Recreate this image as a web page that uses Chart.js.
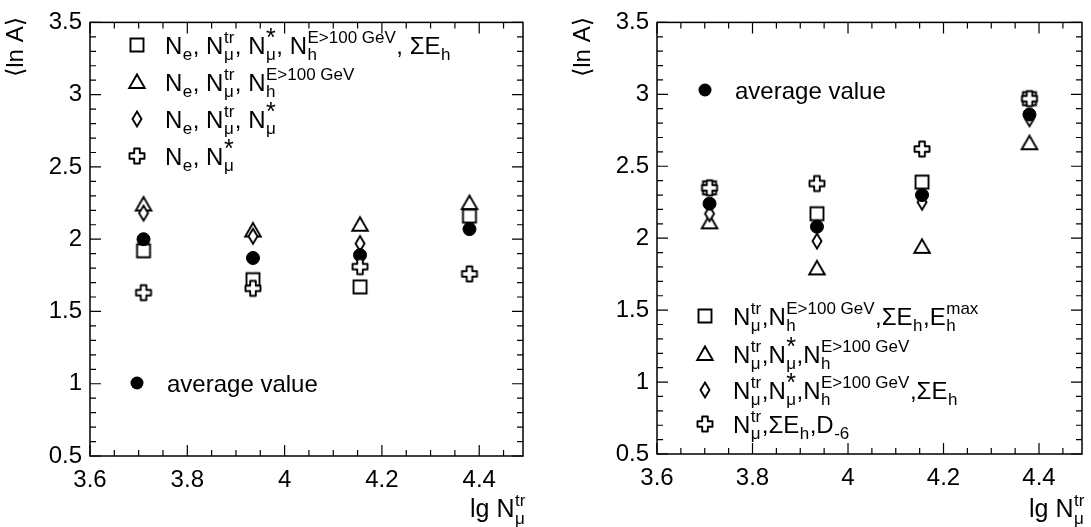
<!DOCTYPE html>
<html><head><meta charset="utf-8">
<script src="https://cdn.jsdelivr.net/npm/chart.js@4/dist/chart.umd.min.js"></script>
<style>
html,body{margin:0;padding:0;background:#fff;}
#wrap{position:relative;width:1091px;height:527px;overflow:hidden;background:#fff;}
.panel{position:absolute;top:0;height:527px;}
</style></head><body>
<div id="wrap">
<div class="panel" style="left:0;width:545px"><canvas id="c1"></canvas></div>
<div class="panel" style="left:545px;width:546px"><canvas id="c2"></canvas></div>
</div>
<script>
// ---------- data ----------
const xCenters = [3.71, 3.935, 4.155, 4.38];
const xTicks = [3.6, 3.8, 4.0, 4.2, 4.4];
const xTickLabels = ['3.6', '3.8', '4', '4.2', '4.4'];
const yTicks = [0.5, 1, 1.5, 2, 2.5, 3, 3.5];
const yTickLabels = ['0.5', '1', '1.5', '2', '2.5', '3', '3.5'];

// left panel
const leftSquare   = [1.92, 1.72, 1.67, 2.16];
const leftTriangle = [2.24, 2.06, 2.10, 2.25];
const leftDiamond  = [2.18, 2.02, 1.97, 2.13];
const leftCross    = [1.63, 1.66, 1.81, 1.76];
const leftAverage  = [2.00, 1.87, 1.89, 2.07];

// right panel
const rightSquare   = [2.35, 2.17, 2.39, 2.97];
const rightTriangle = [2.11, 1.79, 1.94, 2.66];
const rightDiamond  = [2.17, 1.98, 2.25, 2.83];
const rightCross    = [2.35, 2.38, 2.62, 2.97];
const rightAverage  = [2.24, 2.08, 2.30, 2.86];

// legend texts: token = string or [base, sup, sub]
const leftLegend = [
  ['square',   [['N',null,'e'], ', ', ['N','tr','μ'], ', ', ['N','*','μ'], ', ', ['N','E>100 GeV','h'], ', ', ['ΣE',null,'h']]],
  ['triangle', [['N',null,'e'], ', ', ['N','tr','μ'], ', ', ['N','E>100 GeV','h']]],
  ['diamond',  [['N',null,'e'], ', ', ['N','tr','μ'], ', ', ['N','*','μ']]],
  ['cross',    [['N',null,'e'], ', ', ['N','*','μ']]]
];
const rightLegend = [
  ['square',   [['N','tr','μ'], ',', ['N','E>100 GeV','h'], ',', ['ΣE',null,'h'], ',', ['E','max','h']]],
  ['triangle', [['N','tr','μ'], ',', ['N','*','μ'], ',', ['N','E>100 GeV','h']]],
  ['diamond',  [['N','tr','μ'], ',', ['N','*','μ'], ',', ['N','E>100 GeV','h'], ',', ['ΣE',null,'h']]],
  ['cross',    [['N','tr','μ'], ',', ['ΣE',null,'h'], ',', ['D',null,'-6']]]
];
const averageLabel = 'average value';
const yTitle = '⟨ln A⟩';

// ---------- styling ----------
const FF = "'Liberation Sans', Arial, Helvetica, 'DejaVu Sans', sans-serif";

function makeMarker(kind) {
  const S = 22, c = document.createElement('canvas');
  c.width = S; c.height = S;
  const g = c.getContext('2d'), m = S / 2;
  g.lineWidth = 1.9; g.strokeStyle = '#000'; g.fillStyle = '#fff'; g.lineJoin = 'miter';
  g.beginPath();
  if (kind === 'square') {
    g.rect(m - 6.5, m - 6.5, 13, 13);
  } else if (kind === 'triangle') {
    g.moveTo(m, m - 7.5); g.lineTo(m + 7.8, m + 6); g.lineTo(m - 7.8, m + 6); g.closePath();
  } else if (kind === 'diamond') {
    g.moveTo(m, m - 7.5); g.lineTo(m + 4.5, m); g.lineTo(m, m + 7.5); g.lineTo(m - 4.5, m); g.closePath();
  } else if (kind === 'cross') {
    const a = 7.5, b = 2.8;
    const pts = [[-b,-a],[b,-a],[b,-b],[a,-b],[a,b],[b,b],[b,a],[-b,a],[-b,b],[-a,b],[-a,-b],[-b,-b]];
    g.lineJoin = 'round';
    pts.forEach((p, i) => i ? g.lineTo(m + p[0], m + p[1]) : g.moveTo(m + p[0], m + p[1]));
    g.closePath();
  }
  g.fill(); g.stroke();
  return c;
}
const MK = {
  square: makeMarker('square'), triangle: makeMarker('triangle'),
  diamond: makeMarker('diamond'), cross: makeMarker('cross')
};

function pts(vals) { return vals.map((v, i) => ({ x: xCenters[i], y: v })); }
function openSet(vals, kind) {
  return { data: pts(vals), pointStyle: MK[kind], pointRadius: 8, showLine: false };
}
function avgSet(vals) {
  return { data: pts(vals), pointStyle: 'circle', pointRadius: 6.5, backgroundColor: '#000', borderColor: '#000', borderWidth: 1, showLine: false };
}

function drawRich(ctx, x, y, tokens, fs, ss) {
  ctx.textAlign = 'left'; ctx.textBaseline = 'alphabetic'; ctx.fillStyle = '#000';
  for (const t of tokens) {
    if (typeof t === 'string') {
      ctx.font = fs + 'px ' + FF; ctx.fillText(t, x, y); x += ctx.measureText(t).width;
    } else {
      const [b, sup, sub] = t;
      ctx.font = fs + 'px ' + FF; ctx.fillText(b, x, y); x += ctx.measureText(b).width;
      let w = 0;
      if (sup) {
        const star = sup === '*';
        ctx.font = (star ? Math.round(ss * 1.45) : ss) + 'px ' + FF;
        ctx.fillText(sup, x + 0.5, y - fs * (star ? 0.32 : 0.45));
        w = Math.max(w, ctx.measureText(sup).width);
      }
      ctx.font = ss + 'px ' + FF;
      if (sub) { ctx.fillText(sub, x + 0.5, y + fs * 0.27); w = Math.max(w, ctx.measureText(sub).width); }
      x += w + 1;
    }
  }
  return x;
}

const framePlugin = {
  id: 'frame',
  beforeDatasetsDraw(chart) {
    const ctx = chart.ctx, a = chart.chartArea, xs = chart.scales.x, ys = chart.scales.y;
    ctx.save();
    ctx.strokeStyle = '#000'; ctx.lineWidth = 1.5;
    ctx.strokeRect(a.left, a.top, a.right - a.left, a.bottom - a.top);
    ctx.lineWidth = 1.2;
    ctx.beginPath();
    for (let k = 0; k * 0.05 + 3.6 <= xs.max + 1e-9; k++) {
      const v = 3.6 + k * 0.05, px = xs.getPixelForValue(v);
      const L = (k % 4 === 0) ? 11 : 6;
      ctx.moveTo(px, a.bottom); ctx.lineTo(px, a.bottom - L);
      ctx.moveTo(px, a.top); ctx.lineTo(px, a.top + L);
    }
    for (let k = 0; k <= 30; k++) {
      const v = 0.5 + k * 0.1, py = ys.getPixelForValue(v);
      const L = (k % 5 === 0) ? 11 : 6;
      ctx.moveTo(a.left, py); ctx.lineTo(a.left + L, py);
      ctx.moveTo(a.right, py); ctx.lineTo(a.right - L, py);
    }
    ctx.stroke();
    ctx.restore();
  },
  afterDraw(chart, args, opts) {
    const ctx = chart.ctx, a = chart.chartArea;
    ctx.save();
    ctx.fillStyle = '#000';
    // y title
    ctx.translate(opts.yTitleX, 17); ctx.rotate(-Math.PI / 2);
    ctx.font = '24px ' + FF; ctx.textAlign = 'right'; ctx.textBaseline = 'middle';
    ctx.fillText(yTitle, 0, 0);
    ctx.setTransform(1, 0, 0, 1, 0, 0);
    // x title
    drawRich(ctx, a.right - 53, 517, [['lg N', 'tr', 'μ']], 25, 17);
    // legend
    opts.legend.forEach((row, i) => {
      const cy = opts.rows[i];
      ctx.drawImage(MK[row[0]], opts.mx - 11, cy - 11);
      drawRich(ctx, opts.tx, cy + 8.5, row[1], 24, 17);
    });
    ctx.beginPath(); ctx.arc(opts.mx, opts.avgY, 6.5, 0, Math.PI * 2); ctx.fill();
    ctx.font = '24px ' + FF; ctx.textAlign = 'left'; ctx.textBaseline = 'alphabetic';
    ctx.fillText(averageLabel, opts.tx + 2, opts.avgY + 8.5);
    ctx.restore();
  }
};

function makeChart(id, sets, cfg) {
  return new Chart(document.getElementById(id), {
    type: 'scatter',
    data: { datasets: sets },
    options: {
      responsive: true, maintainAspectRatio: false, animation: false, events: [],
      layout: { padding: { left: 0, right: cfg.padRight, top: 15, bottom: 0 } },
      plugins: { legend: { display: false }, tooltip: { enabled: false }, frame: cfg.frame },
      scales: {
        x: {
          type: 'linear', min: 3.6, max: 4.49,
          afterBuildTicks: s => { s.ticks = xTicks.map(v => ({ value: v })); },
          afterFit: s => { s.height = cfg.xHeight; },
          ticks: { callback: (v, i) => xTickLabels[i], font: { family: FF, size: 24 }, color: '#000', padding: 10, maxRotation: 0, autoSkip: false },
          grid: { display: false, drawTicks: false }, border: { display: false }
        },
        y: {
          type: 'linear', min: 0.5, max: 3.5,
          afterBuildTicks: s => { s.ticks = yTicks.map(v => ({ value: v })); },
          afterFit: s => { s.width = cfg.yWidth; },
          ticks: { callback: (v, i) => yTickLabels[i], font: { family: FF, size: 24 }, color: '#000', padding: 8, autoSkip: false },
          grid: { display: false, drawTicks: false }, border: { display: false }
        }
      }
    },
    plugins: [framePlugin]
  });
}

makeChart('c1', [
  openSet(leftCross, 'cross'), avgSet(leftAverage), openSet(leftSquare, 'square'),
  openSet(leftDiamond, 'diamond'), openSet(leftTriangle, 'triangle')
], {
  padRight: 22, xHeight: 71, yWidth: 90,
  frame: { yTitleX: 16, legend: leftLegend, rows: [45, 82, 119, 156], avgY: 383, mx: 137, tx: 165 }
});

makeChart('c2', [
  openSet(rightCross, 'cross'), avgSet(rightAverage), openSet(rightSquare, 'square'),
  openSet(rightDiamond, 'diamond'), openSet(rightTriangle, 'triangle')
], {
  padRight: 3, xHeight: 73, yWidth: 112,
  frame: { yTitleX: 38, legend: rightLegend, rows: [316, 354, 390, 424], avgY: 90, mx: 160, tx: 188 }
});
</script>
</body></html>
